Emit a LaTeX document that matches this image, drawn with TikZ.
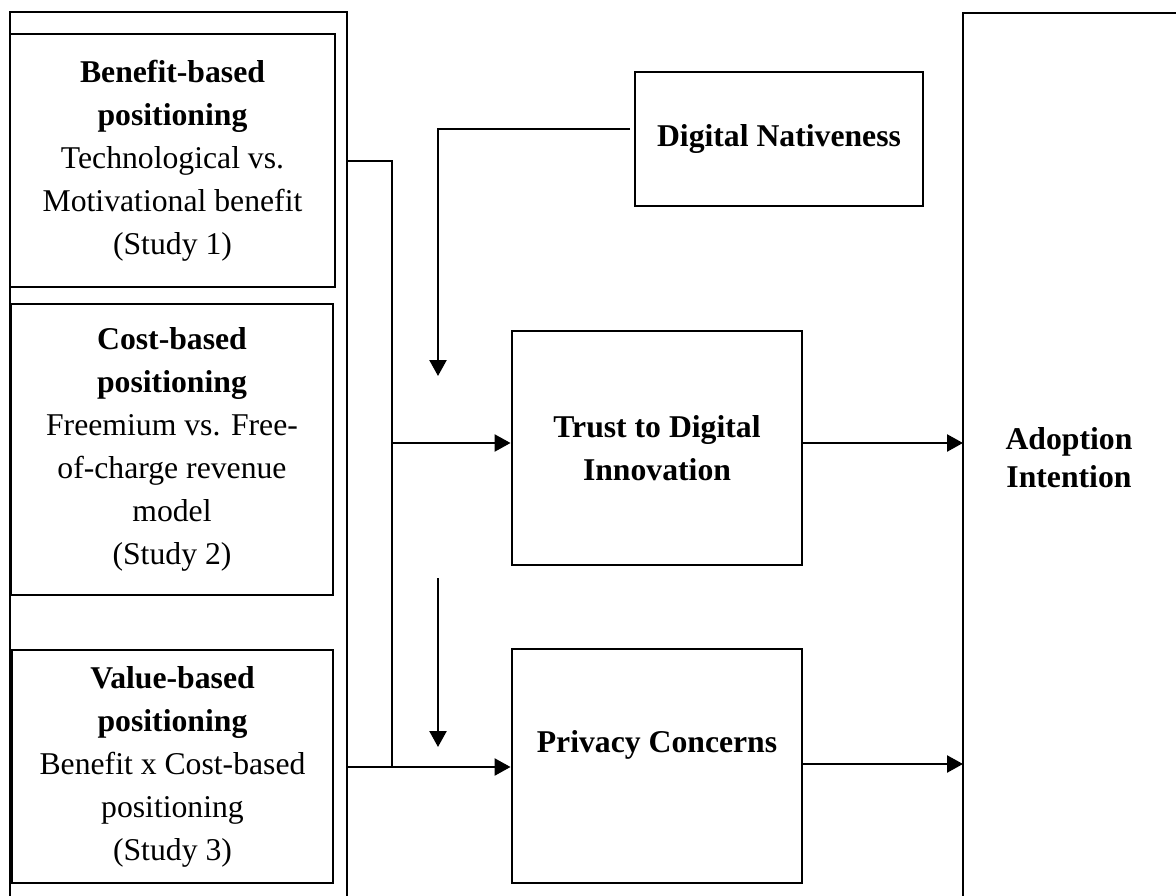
\documentclass[tikz,border=0pt]{standalone}
\usepackage{fontspec}
\setmainfont{Liberation Serif}
\usetikzlibrary{arrows.meta}
\begin{document}
\begin{tikzpicture}[x=1pt,y=-1pt,
  box/.style={draw, line width=2.9pt, rectangle, inner sep=0pt, align=center,
    font=\fontsize{31.7}{43}\selectfont},
  txt/.style={inner sep=0pt, align=center, font=\fontsize{31.7}{43}\selectfont},
  conn/.style={line width=2.4pt},
  arr/.style={line width=2.4pt, -{Triangle[length=16pt,width=17pt]}}]
\useasboundingbox (0,0) rectangle (1176,896);
% outer frames (open at the picture edge)
\coordinate (oBL) at (10,905);
\coordinate (oTL) at (10,12);
\coordinate (oTR) at (347,12);
\coordinate (oBR) at (347,905);
\draw[line width=2.9pt] (oBL) -- (oTL) -- (oTR) -- (oBR);
\coordinate (aBL) at (963,905);
\coordinate (aTL) at (963,13);
\coordinate (aTR) at (1185,13);
\draw[line width=2.9pt] (aBL) -- (aTL) -- (aTR);
\node[txt, font=\fontsize{31.7}{38}\selectfont\bfseries] (adopt) at (1069,458) {Adoption\\Intention};
% left boxes
\node[box, minimum width=325pt, minimum height=253pt] (b1) at (172.5,160.5)
  {\textbf{Benefit-based}\\\textbf{positioning}\\Technological vs.\\Motivational benefit\\(Study 1)};
\node[box, minimum width=322pt, minimum height=291pt] (b2) at (172,449.5)
  {\textbf{Cost-based}\\\textbf{positioning}\\Freemium vs. Free-\\of-charge revenue\\model\\(Study 2)};
\node[box, minimum width=321pt, minimum height=233pt] (b3) at (172.5,766.5)
  {\textbf{Value-based}\\\textbf{positioning}\\Benefit x Cost-based\\positioning\\(Study 3)};
% middle boxes
\node[box, minimum width=288pt, minimum height=134pt, font=\fontsize{31.7}{43}\selectfont\bfseries] (dn) at (779,139) {Digital Nativeness};
\node[box, minimum width=290pt, minimum height=234pt, font=\fontsize{31.7}{43}\selectfont\bfseries] (trust) at (657,448) {Trust to Digital\\Innovation};
\node[box, minimum width=290pt, minimum height=234pt] (priv) at (657,766) {};
\node[txt, font=\fontsize{31.7}{43}\selectfont\bfseries] (privt) at (657,745) {Privacy Concerns};
% connectors
\coordinate (j1) at (347,161);
\coordinate (j2) at (392,161);
\coordinate (j3) at (392,767);
\coordinate (j4) at (347,767);
\coordinate (j5) at (392,443);
\draw[conn] (j1) -- (j2) -- (j3);
\draw[arr] (j4) -- (j4 -| priv.west);
\draw[arr] (j5) -- (j5 -| trust.west);
\coordinate (d1) at (630,129);
\coordinate (d2) at (438,129);
\coordinate (d3) at (438,376);
\draw[arr] (d1) -- (d2) -- (d3);
\coordinate (d4) at (438,578);
\coordinate (d5) at (438,747);
\draw[arr] (d4) -- (d5);
\coordinate (t1) at (802,443);
\draw[arr] (t1) -- (t1 -| aTL);
\coordinate (p1) at (802,764);
\draw[arr] (p1) -- (p1 -| aTL);
\end{tikzpicture}
\end{document}
